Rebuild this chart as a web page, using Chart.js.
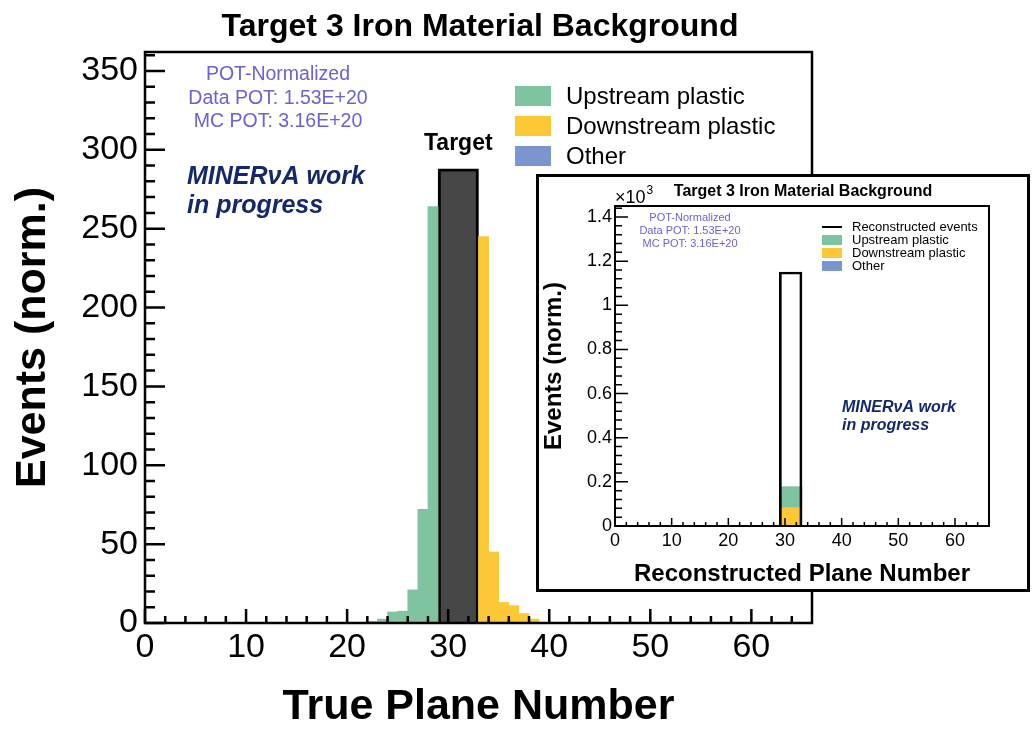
<!DOCTYPE html>
<html>
<head>
<meta charset="utf-8">
<script src="https://cdn.jsdelivr.net/npm/chart.js@4.4.0/dist/chart.umd.min.js"></script>
<style>
html, body { margin: 0; padding: 0; background: #fff; }
#main { position: absolute; left: 0; top: 0; }
#insetBox { position: absolute; left: 536px; top: 174px; width: 494px; height: 418px;
            border: 3px solid #000; box-sizing: border-box; background: #fff; }
#inset { position: absolute; left: 0; top: 0; }
</style>
</head>
<body>
<canvas id="main" width="1032" height="729"></canvas>
<div id="insetBox"><canvas id="inset" width="488" height="412"></canvas></div>
<script>
// main panel: events per true plane (one plane per bin, keyed by lower edge)
const upstreamPlanes = [22, 23, 24, 25, 26, 27, 28];
const upstreamEvents = [1, 2.5, 7, 7.5, 21, 72, 264];
const downstreamPlanes = [33, 34, 35, 36, 37, 38];
const downstreamEvents = [245, 45, 13, 11, 6, 2.5];
const otherPlanes = [];
const otherEvents = [];
const targetPlanes = [29, 33];   // lower and upper edge of the wide target bin
const targetEvents = 288;

// inset: reconstructed plane number, one wide bin
const recoPlanes = [29, 33];
const recoEvents = 1151;
const recoUpstream = 94;
const recoDownstream = 83;
const recoOther = 0;

const xTicks = [0, 10, 20, 30, 40, 50, 60];
const mainYTicks = [0, 50, 100, 150, 200, 250, 300, 350];
const insetYTicks = [0, 200, 400, 600, 800, 1000, 1200, 1400];

const potLines = ["POT-Normalized", "Data POT: 1.53E+20", "MC POT: 3.16E+20"];
const workLines = ["MINERνA work", "in progress"];
const titleText = "Target 3 Iron Material Background";

const GREEN = "#80c3a1";
const YELLOW = "#fcc835";
const BLUE = "#7b96cf";
const DARK = "#474747";
const POT_COLOR = "#6a62d6";
const WORK_COLOR = "#13296b";
const FONT = "'Liberation Sans', Arial, Helvetica, sans-serif";

Chart.defaults.font.family = FONT;
Chart.defaults.color = "#000";

function bins(planes, events) {
    return planes.map((p, i) => ({ x: p + 0.5, y: events[i] }));
}
function wide(range, value) {
    return [{ x: (range[0] + range[1]) / 2, y: value }];
}

// hidden axis whose two ticks are the wide bin's edges, so the bar is exactly that wide
function edgeAxis(range) {
    return {
        type: "linear", min: 0, max: 66, offset: false, display: false,
        afterBuildTicks: s => { s.ticks = range.map(v => ({ value: v })); }
    };
}

// frame + inward ROOT style ticks
function frameTicks(o) {
    return {
        id: "frameTicks",
        afterDatasetsDraw(chart) {
            const { ctx, chartArea: a, scales: { x, y } } = chart;
            ctx.save();
            ctx.strokeStyle = "#000";
            ctx.lineWidth = o.tickWidth;
            ctx.beginPath();
            for (let v = 0; v < x.max; v += o.xMinor) {
                const px = x.getPixelForValue(v);
                const len = v % o.xMajor === 0 ? o.xMajorLen : o.xMinorLen;
                ctx.moveTo(px, a.bottom);
                ctx.lineTo(px, a.bottom - len);
            }
            for (let v = 0; v < y.max; v += o.yMinor) {
                const py = y.getPixelForValue(v);
                const len = v % o.yMajor === 0 ? o.yMajorLen : o.yMinorLen;
                ctx.moveTo(a.left, py);
                ctx.lineTo(a.left + len, py);
            }
            ctx.stroke();
            ctx.lineWidth = o.frameWidth;
            ctx.strokeRect(a.left, a.top, a.right - a.left, a.bottom - a.top);
            ctx.restore();
        }
    };
}

function linesAt(ctx, lines, x, y0, dy) {
    lines.forEach((t, i) => ctx.fillText(t, x, y0 + i * dy));
}

// ---------- main chart ----------
const mainDatasets = [
    { label: "Upstream plastic", data: bins(upstreamPlanes, upstreamEvents), backgroundColor: GREEN },
    { label: "Downstream plastic", data: bins(downstreamPlanes, downstreamEvents), backgroundColor: YELLOW },
    { label: "Other", data: bins(otherPlanes, otherEvents), backgroundColor: BLUE },
    { label: "Target", data: wide(targetPlanes, targetEvents), xAxisID: "xt", backgroundColor: DARK,
      borderColor: "#000", borderWidth: 3 }
];

const mainText = {
    id: "mainText",
    afterDraw(chart) {
        const { ctx, scales: { x, y } } = chart;
        ctx.save();
        ctx.fillStyle = "#000";
        ctx.textAlign = "center";
        ctx.textBaseline = "middle";
        ctx.font = "bold 32px " + FONT;
        ctx.fillText(titleText, 480, 27);

        ctx.font = "bold 23px " + FONT;
        ctx.fillText("Target", x.getPixelForValue((targetPlanes[0] + targetPlanes[1]) / 2),
                     y.getPixelForValue(targetEvents) - 25);

        ctx.fillStyle = POT_COLOR;
        ctx.font = "19.5px " + FONT;
        linesAt(ctx, potLines, 278, 75, 23.5);

        ctx.textAlign = "left";
        ctx.fillStyle = WORK_COLOR;
        ctx.font = "italic bold 25px " + FONT;
        linesAt(ctx, workLines, 187, 177, 29);

        // legend
        ctx.font = "24px " + FONT;
        mainDatasets.slice(0, 3).forEach((d, i) => {
            const cy = 96 + i * 30;
            ctx.fillStyle = d.backgroundColor;
            ctx.fillRect(515, cy - 10, 36, 20);
            ctx.fillStyle = "#000";
            ctx.fillText(d.label, 566, cy + 1);
        });
        ctx.restore();
    }
};

new Chart(document.getElementById("main"), {
    type: "bar",
    data: { datasets: mainDatasets },
    options: {
        responsive: false,
        animation: false,
        layout: { padding: { left: 0, top: 52, right: 220, bottom: 0 } },
        datasets: { bar: { grouped: false, barPercentage: 1, categoryPercentage: 1 } },
        plugins: { legend: { display: false }, tooltip: { enabled: false } },
        scales: {
            x: {
                type: "linear", min: 0, max: 66, offset: false,
                afterBuildTicks: s => { s.ticks = xTicks.map(v => ({ value: v })); },
                afterFit: s => { s.height = 106; },
                grid: { display: false, drawTicks: false }, border: { display: false },
                ticks: { font: { size: 34 }, padding: 4, maxRotation: 0, autoSkip: false, callback: v => String(v) },
                title: { display: true, text: "True Plane Number", font: { size: 43, weight: "bold", lineHeight: 1 },
                         padding: { top: 0, bottom: 0 } }
            },
            xt: edgeAxis(targetPlanes),
            y: {
                min: 0, max: 362,
                afterBuildTicks: s => { s.ticks = mainYTicks.map(v => ({ value: v })); },
                afterFit: s => { s.width = 145; },
                grid: { display: false, drawTicks: false }, border: { display: false },
                ticks: { font: { size: 34 }, padding: 7, callback: v => String(v) },
                title: { display: true, text: "Events (norm.)", font: { size: 43, weight: "bold", lineHeight: 1 },
                         padding: { top: 12, bottom: 0 } }
            }
        }
    },
    plugins: [frameTicks({ frameWidth: 2.5, tickWidth: 2.5, xMinor: 2, xMajor: 10, xMajorLen: 14, xMinorLen: 7,
                           yMinor: 10, yMajor: 50, yMajorLen: 20, yMinorLen: 10 }), mainText]
});

// ---------- inset chart ----------
const insetDatasets = [
    { label: "Reconstructed events", data: wide(recoPlanes, recoEvents), stack: "data",
      backgroundColor: "rgba(0,0,0,0)", borderColor: "#000", borderWidth: 2 },
    { label: "Downstream plastic", data: wide(recoPlanes, recoDownstream), stack: "mc", backgroundColor: YELLOW },
    { label: "Upstream plastic", data: wide(recoPlanes, recoUpstream), stack: "mc", backgroundColor: GREEN },
    { label: "Other", data: wide(recoPlanes, recoOther), stack: "mc", backgroundColor: BLUE }
];
insetDatasets.forEach(d => { d.xAxisID = "xt"; });

const insetText = {
    id: "insetText",
    afterDraw(chart) {
        const { ctx } = chart;
        ctx.save();
        ctx.fillStyle = "#000";
        ctx.textAlign = "center";
        ctx.textBaseline = "middle";
        ctx.font = "bold 16px " + FONT;
        ctx.fillText(titleText, 264, 15);

        ctx.textAlign = "left";
        ctx.font = "18px " + FONT;
        ctx.fillText("×10", 76, 21);
        const w = ctx.measureText("×10").width;
        ctx.font = "12px " + FONT;
        ctx.fillText("3", 77 + w, 14);

        ctx.textAlign = "center";
        ctx.fillStyle = POT_COLOR;
        ctx.font = "11px " + FONT;
        linesAt(ctx, potLines, 151, 41, 13);

        ctx.textAlign = "left";
        ctx.fillStyle = WORK_COLOR;
        ctx.font = "italic bold 16px " + FONT;
        linesAt(ctx, workLines, 303, 231, 18);

        // legend: reconstructed line then MC boxes
        ctx.font = "13px " + FONT;
        const entries = [insetDatasets[0], insetDatasets[2], insetDatasets[1], insetDatasets[3]];
        entries.forEach((d, i) => {
            const cy = 50 + i * 13;
            if (i === 0) {
                ctx.fillStyle = "#000";
                ctx.fillRect(283, cy - 1, 20, 2);
            } else {
                ctx.fillStyle = d.backgroundColor;
                ctx.fillRect(283, cy - 5, 20, 10);
            }
            ctx.fillStyle = "#000";
            ctx.fillText(d.label, 313, cy);
        });
        ctx.restore();
    }
};

new Chart(document.getElementById("inset"), {
    type: "bar",
    data: { datasets: insetDatasets },
    options: {
        responsive: false,
        animation: false,
        layout: { padding: { left: 0, top: 29, right: 38, bottom: 0 } },
        datasets: { bar: { grouped: false, barPercentage: 1, categoryPercentage: 1 } },
        plugins: { legend: { display: false }, tooltip: { enabled: false } },
        scales: {
            x: {
                type: "linear", min: 0, max: 66, offset: false,
                afterBuildTicks: s => { s.ticks = xTicks.map(v => ({ value: v })); },
                afterFit: s => { s.height = 63; },
                grid: { display: false, drawTicks: false }, border: { display: false },
                ticks: { font: { size: 18 }, padding: 4, maxRotation: 0, autoSkip: false, callback: v => String(v) },
                title: { display: true, text: "Reconstructed Plane Number", font: { size: 24, weight: "bold", lineHeight: 1 },
                         padding: { top: 0, bottom: 3 } }
            },
            xt: edgeAxis(recoPlanes),
            y: {
                stacked: true, min: 0, max: 1450,
                afterBuildTicks: s => { s.ticks = insetYTicks.map(v => ({ value: v })); },
                afterFit: s => { s.width = 76; },
                grid: { display: false, drawTicks: false }, border: { display: false },
                ticks: { font: { size: 18 }, padding: 3, callback: v => String(v / 1000) },
                title: { display: true, text: "Events (norm.)", font: { size: 24, weight: "bold", lineHeight: 1 },
                         padding: { top: 3, bottom: 0 } }
            }
        }
    },
    plugins: [frameTicks({ frameWidth: 2, tickWidth: 1.5, xMinor: 2, xMajor: 10, xMajorLen: 8, xMinorLen: 4,
                           yMinor: 40, yMajor: 200, yMajorLen: 13, yMinorLen: 7 }), insetText]
});
</script>
</body>
</html>
